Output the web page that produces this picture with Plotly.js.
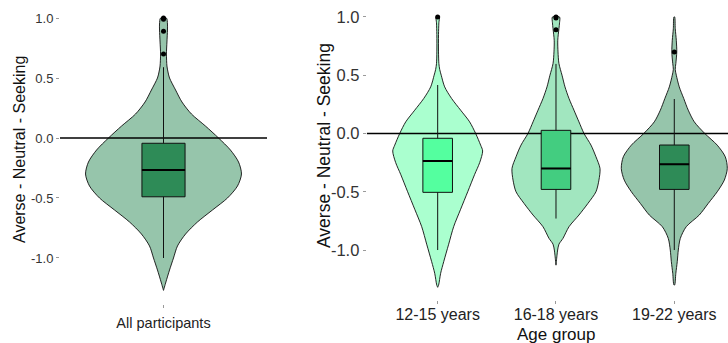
<!DOCTYPE html>
<html>
<head>
<meta charset="utf-8">
<script src="https://cdn.plot.ly/plotly-3.0.1.min.js"></script>
<style>html,body{margin:0;padding:0;background:#fff;}#chart{width:728px;height:343px;}</style>
</head>
<body>
<div id="chart"></div>
<script>
// ---------------- DATA ----------------
const allCategory = ['All participants'];
const ageGroups = ['12-15 years', '16-18 years', '19-22 years'];
const yTickVals = [-1, -0.5, 0, 0.5, 1];
const yTickText = ['-1.0', '-0.5', '0.0', '0.5', '1.0'];
const refValue = 0;

// box statistics
const allQ1 = [-0.49], allMedian = [-0.267], allQ3 = [-0.044], allLower = [-1.0], allUpper = [0.59];
const allOutliers = [1.0, 0.99, 0.89, 0.70];

const ageQ1 = [-0.505, -0.48, -0.48];
const ageMedian = [-0.236, -0.30, -0.265];
const ageQ3 = [-0.041, 0.027, -0.099];
const ageLower = [-1.0, -0.73, -1.0];
const ageUpper = [0.416, 0.597, 0.296];
const ageOutliers = [[1.0], [1.0, 0.99, 0.89], [0.70]];

// violin density profiles: value levels and half-widths (in category units)
const allLevels = [1.0, 0.95, 0.9, 0.8, 0.7, 0.6, 0.55, 0.5, 0.4, 0.3, 0.2, 0.1, 0.0, -0.1, -0.2, -0.3, -0.4, -0.5, -0.6, -0.7, -0.8, -0.9, -1.0, -1.1, -1.2, -1.27];
const allDensity = [0.017, 0.023, 0.023, 0.020, 0.017, 0.020, 0.026, 0.035, 0.070, 0.107, 0.162, 0.243, 0.319, 0.388, 0.435, 0.452, 0.429, 0.371, 0.284, 0.197, 0.128, 0.081, 0.058, 0.035, 0.014, 0.0];

const g1Levels = [1.0, 0.95, 0.85, 0.7, 0.6, 0.55, 0.5, 0.4, 0.3, 0.2, 0.1, 0.0, -0.1, -0.15, -0.25, -0.35, -0.5, -0.65, -0.8, -0.95, -1.1, -1.2, -1.3, -1.32];
const g1Density = [0.013, 0.010, 0.007, 0.007, 0.010, 0.017, 0.030, 0.059, 0.118, 0.194, 0.270, 0.321, 0.363, 0.380, 0.355, 0.313, 0.254, 0.194, 0.135, 0.093, 0.051, 0.025, 0.008, 0.0];

const g2Levels = [1.0, 0.95, 0.9, 0.8, 0.7, 0.6, 0.5, 0.4, 0.3, 0.2, 0.1, 0.0, -0.1, -0.2, -0.3, -0.4, -0.5, -0.6, -0.7, -0.8, -0.9, -0.95, -1.0, -1.05, -1.13];
const g2Density = [0.030, 0.030, 0.025, 0.015, 0.017, 0.025, 0.051, 0.076, 0.110, 0.152, 0.194, 0.237, 0.296, 0.338, 0.372, 0.363, 0.338, 0.270, 0.194, 0.110, 0.059, 0.025, 0.014, 0.008, 0.0];

const g3Levels = [1.0, 0.9, 0.8, 0.7, 0.6, 0.55, 0.5, 0.4, 0.3, 0.2, 0.1, 0.0, -0.1, -0.2, -0.3, -0.4, -0.5, -0.6, -0.7, -0.8, -0.9, -1.0, -1.1, -1.2, -1.3];
const g3Density = [0.003, 0.008, 0.017, 0.021, 0.013, 0.008, 0.017, 0.042, 0.080, 0.118, 0.169, 0.258, 0.363, 0.431, 0.448, 0.423, 0.363, 0.287, 0.211, 0.101, 0.051, 0.034, 0.025, 0.013, 0.003];

// ---------------- STYLE ----------------
const FONT = 'Liberation Sans, Arial, sans-serif';
const W = 728, H = 343;
const px = v => v / W;
const py = v => 1 - v / H;
const BOX_W = 0.25;
const violinFill = ['#AAFFCF', '#A1E6BF', '#96C5AB'];
const boxFill = ['#54FF9F', '#43CD80', '#2E8B57'];
const allViolinFill = '#96C5AB', allBoxFill = '#2E8B57';

function violinTrace(center, levels, dens, fill, xa, ya) {
  const xs = [], ys = [];
  for (let i = 0; i < levels.length; i++) { xs.push(center + dens[i]); ys.push(levels[i]); }
  for (let i = levels.length - 1; i >= 0; i--) { xs.push(center - dens[i]); ys.push(levels[i]); }
  xs.push(xs[0]); ys.push(ys[0]);
  return {type: 'scatter', mode: 'lines', x: xs, y: ys, fill: 'toself', fillcolor: fill,
    line: {color: 'rgba(15,15,15,0.9)', width: 1, shape: 'spline', smoothing: 0.8},
    xaxis: xa, yaxis: ya, hoverinfo: 'skip', showlegend: false};
}
function boxTrace(center, q1, med, q3, lo, hi, fill, xa, ya) {
  return {type: 'box', x: [center], q1: [q1], median: [med], q3: [q3], lowerfence: [lo], upperfence: [hi],
    width: BOX_W, whiskerwidth: 0, fillcolor: fill, line: {color: '#111', width: 1}, boxpoints: false,
    xaxis: xa, yaxis: ya, showlegend: false, hoverinfo: 'skip'};
}
function medianTrace(center, med, xa, ya) {
  return {type: 'scatter', mode: 'lines', x: [center - BOX_W / 2, center + BOX_W / 2], y: [med, med],
    line: {color: '#000', width: 2}, xaxis: xa, yaxis: ya, showlegend: false, hoverinfo: 'skip'};
}
function outlierTrace(center, vals, xa, ya) {
  return {type: 'scatter', mode: 'markers', x: vals.map(() => center), y: vals,
    marker: {color: '#000', size: 5}, xaxis: xa, yaxis: ya, showlegend: false, hoverinfo: 'skip'};
}

const traces = [];
// left panel
traces.push(violinTrace(1, allLevels, allDensity, allViolinFill, 'x', 'y'));
traces.push({type: 'scatter', mode: 'lines', x: [0.4, 1.6], y: [refValue, refValue], line: {color: '#000', width: 1.5},
  xaxis: 'x', yaxis: 'y', showlegend: false, hoverinfo: 'skip'});
traces.push(boxTrace(1, allQ1[0], allMedian[0], allQ3[0], allLower[0], allUpper[0], allBoxFill, 'x', 'y3'));
traces.push(medianTrace(1, allMedian[0], 'x', 'y3'));
traces.push(outlierTrace(1, allOutliers, 'x', 'y3'));

// right panel
const gLevels = [g1Levels, g2Levels, g3Levels];
const gDens = [g1Density, g2Density, g3Density];
ageGroups.forEach((g, i) => traces.push(violinTrace(i + 1, gLevels[i], gDens[i], violinFill[i], 'x2', 'y2')));
traces.push({type: 'scatter', mode: 'lines', x: [0.4, 3.6], y: [refValue, refValue], line: {color: '#000', width: 1.5},
  xaxis: 'x2', yaxis: 'y2', showlegend: false, hoverinfo: 'skip', cliponaxis: true});
ageGroups.forEach((g, i) => traces.push(boxTrace(i + 1, ageQ1[i], ageMedian[i], ageQ3[i], ageLower[i], ageUpper[i], boxFill[i], 'x2', 'y4')));
ageGroups.forEach((g, i) => traces.push(medianTrace(i + 1, ageMedian[i], 'x2', 'y4')));
ageGroups.forEach((g, i) => traces.push(outlierTrace(i + 1, ageOutliers[i], 'x2', 'y4')));

const leftYRange = [-1.3835, 1.1135];
const rightYRange = [-1.4255, 1.1155];
const leftYDomain = [(H - 304) / H, (H - 4.4) / H];
const rightYDomain = [(H - 299.6) / H, (H - 3.5) / H];

const baseAxis = {showgrid: false, zeroline: false, showline: false, ticks: 'outside', ticklen: 3, tickwidth: 1,
  tickcolor: '#9a9a9a', fixedrange: true, automargin: false};

const layout = {
  width: W, height: H, margin: {l: 0, r: 0, t: 0, b: 0}, paper_bgcolor: '#fff', plot_bgcolor: 'rgba(0,0,0,0)',
  font: {family: FONT, color: '#333'}, showlegend: false,
  xaxis: Object.assign({}, baseAxis, {domain: [px(60), px(267)], range: [0.4, 1.6], anchor: 'y',
    tickmode: 'array', tickvals: [1], ticktext: allCategory, tickfont: {size: 14.5, color: '#222'}, ticklabelstandoff: 3}),
  yaxis: Object.assign({}, baseAxis, {domain: leftYDomain, range: leftYRange, anchor: 'x',
    tickmode: 'array', tickvals: yTickVals, ticktext: yTickText, tickfont: {size: 13, color: '#333'}}),
  yaxis3: {overlaying: 'y', anchor: 'x', range: leftYRange, visible: false, fixedrange: true},
  xaxis2: Object.assign({}, baseAxis, {domain: [px(366.7), 1], range: [0.4, 3.454], anchor: 'y2',
    tickmode: 'array', tickvals: [1, 2, 3], ticktext: ageGroups, tickfont: {size: 16, color: '#222'}, ticklabelstandoff: -3}),
  yaxis2: Object.assign({}, baseAxis, {domain: rightYDomain, range: rightYRange, anchor: 'x2',
    tickmode: 'array', tickvals: yTickVals, ticktext: yTickText, tickfont: {size: 16.5, color: '#333'}}),
  yaxis4: {overlaying: 'y2', anchor: 'x2', range: rightYRange, visible: false, fixedrange: true},
  annotations: [
    {text: 'Averse - Neutral - Seeking', textangle: -90, xref: 'paper', yref: 'paper', x: px(19), y: py(150),
      showarrow: false, xanchor: 'center', yanchor: 'middle', font: {size: 16, color: '#111', family: FONT}},
    {text: 'Averse - Neutral - Seeking', textangle: -90, xref: 'paper', yref: 'paper', x: px(324), y: py(146),
      showarrow: false, xanchor: 'center', yanchor: 'middle', font: {size: 17.5, color: '#111', family: FONT}},
    {text: 'Age group', xref: 'paper', yref: 'paper', x: px(556), y: py(334),
      showarrow: false, xanchor: 'center', yanchor: 'middle', font: {size: 17, color: '#111', family: FONT}}
  ]
};

Plotly.newPlot('chart', traces, layout, {staticPlot: true, displayModeBar: false});
</script>
</body>
</html>
